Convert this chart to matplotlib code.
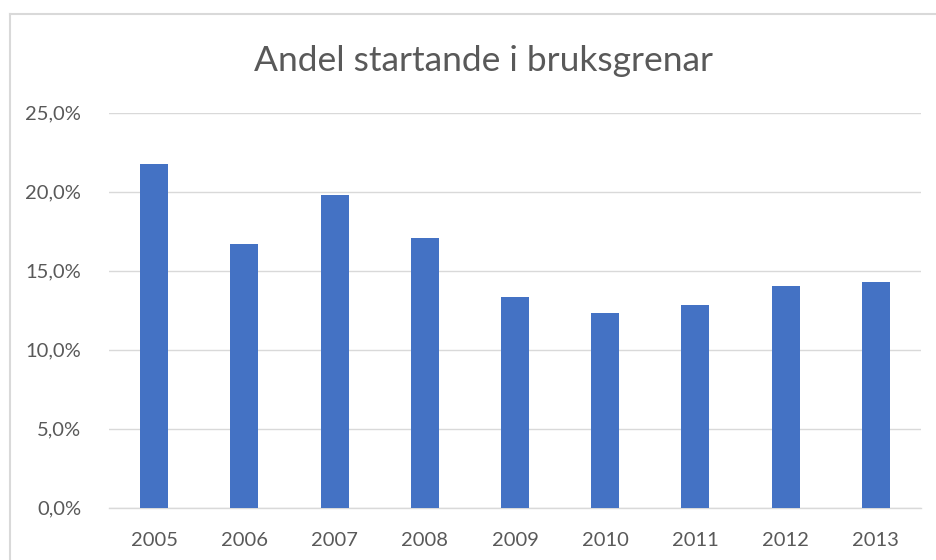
import matplotlib
matplotlib.use("Agg")
import matplotlib.pyplot as plt
from matplotlib.lines import Line2D
from matplotlib.ticker import FuncFormatter, MultipleLocator

years = ["2005", "2006", "2007", "2008", "2009", "2010", "2011", "2012", "2013"]
shares = [21.75, 16.7, 19.75, 17.08, 13.3, 12.28, 12.8, 14.05, 14.25]
title = "Andel startande i bruksgrenar"

W, H = 936, 560
fig = plt.figure(figsize=(W / 100, H / 100), dpi=100)
plt.rcParams['font.family'] = ['Lato', 'DejaVu Sans']

left, right = 109 / W, 921 / W
bottom, top = 1 - 507.5 / H, 1 - 112.5 / H
ax = fig.add_axes([left, bottom, right - left, top - bottom])

x = range(len(years))
ax.bar(x, shares, width=0.31, color="#4472C4", zorder=3)
ax.set_xlim(-0.5, len(years) - 0.5)
ax.set_ylim(0, 25)
ax.yaxis.set_major_locator(MultipleLocator(5))
ax.yaxis.set_major_formatter(FuncFormatter(lambda v, p: f"{v:.1f}".replace(".", ",") + "%"))
ax.set_xticks(list(x))
ax.set_xticklabels(years)
ax.grid(axis="y", color="#D9D9D9", linewidth=1.0, zorder=0)
for s in ["top", "right", "left"]:
    ax.spines[s].set_visible(False)
ax.spines["bottom"].set_color("#D9D9D9")
ax.spines["bottom"].set_linewidth(1.0)
ax.tick_params(axis="both", length=0, labelsize=14.5, colors="#595959")
ax.tick_params(axis="x", pad=18)
ax.tick_params(axis="y", pad=20)

fig.text(483 / W, 1 - 61 / H, title, ha="center", va="center", fontsize=25.5, color="#595959")

# outer chart border (top and left)
fig.add_artist(Line2D([10 / W, 1], [1 - 14 / H, 1 - 14 / H], transform=fig.transFigure, color="#D9D9D9", linewidth=1.5))
fig.add_artist(Line2D([10 / W, 10 / W], [1 - 14 / H, 0], transform=fig.transFigure, color="#D9D9D9", linewidth=1.5))

fig.savefig("out.png", dpi=100, facecolor="white")
